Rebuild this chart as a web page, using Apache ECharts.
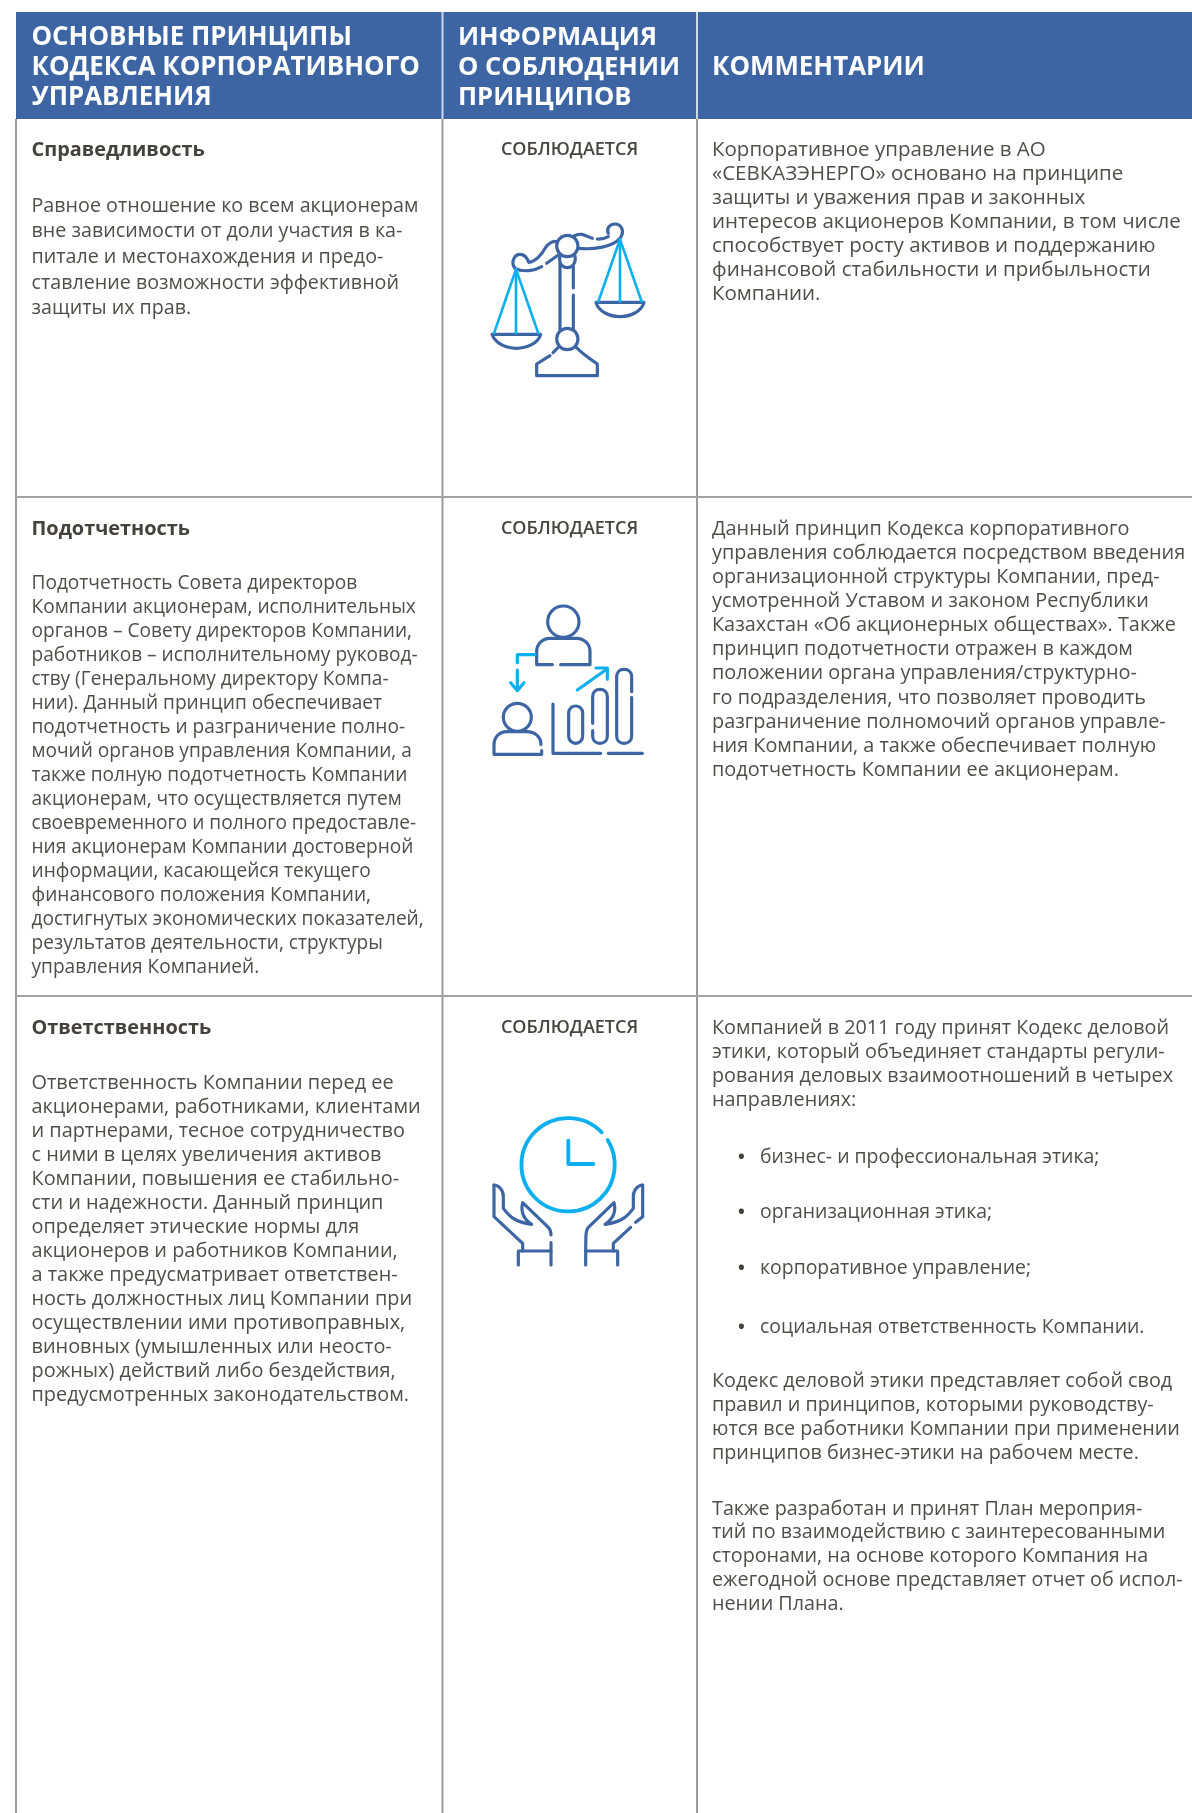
<!DOCTYPE html>
<html><head><meta charset="utf-8">
<style>html,body{margin:0;padding:0;background:#fff}#c{width:1192px;height:1813px}</style>
<script src="https://cdn.jsdelivr.net/npm/echarts@6/dist/echarts.min.js"></script>
</head><body><div id="c"></div>
<script>
// ---- content ----
const headerPrinciples = ['ОСНОВНЫЕ ПРИНЦИПЫ','КОДЕКСА КОРПОРАТИВНОГО','УПРАВЛЕНИЯ'];
const headerInfo = ['ИНФОРМАЦИЯ','О СОБЛЮДЕНИИ','ПРИНЦИПОВ'];
const headerComments = ['КОММЕНТАРИИ'];
const rowTitles = ['Справедливость','Подотчетность','Ответственность'];
const statusText = 'СОБЛЮДАЕТСЯ';
const principle1 = ['Равное отношение ко всем акционерам','вне зависимости от доли участия в ка-','питале и местонахождения и предо-','ставление возможности эффективной','защиты их прав.'];
const principle2 = ['Подотчетность Совета директоров','Компании акционерам, исполнительных','органов – Совету директоров Компании,','работников – исполнительному руковод-','ству (Генеральному директору Компа-','нии). Данный принцип обеспечивает','подотчетность и разграничение полно-','мочий органов управления Компании, а','также полную подотчетность Компании','акционерам, что осуществляется путем','своевременного и полного предоставле-','ния акционерам Компании достоверной','информации, касающейся текущего','финансового положения Компании,','достигнутых экономических показателей,','результатов деятельности, структуры','управления Компанией.'];
const principle3 = ['Ответственность Компании перед ее','акционерами, работниками, клиентами','и партнерами, тесное сотрудничество','с ними в целях увеличения активов','Компании, повышения ее стабильно-','сти и надежности. Данный принцип','определяет этические нормы для','акционеров и работников Компании,','а также предусматривает ответствен-','ность должностных лиц Компании при','осуществлении ими противоправных,','виновных (умышленных или неосто-','рожных) действий либо бездействия,','предусмотренных законодательством.'];
const comment1 = ['Корпоративное управление в АО','«СЕВКАЗЭНЕРГО» основано на принципе','защиты и уважения прав и законных','интересов акционеров Компании, в том числе','способствует росту активов и поддержанию','финансовой стабильности и прибыльности','Компании.'];
const comment2 = ['Данный принцип Кодекса корпоративного','управления соблюдается посредством введения','организационной структуры Компании, пред-','усмотренной Уставом и законом Республики','Казахстан «Об акционерных обществах». Также','принцип подотчетности отражен в каждом','положении органа управления/структурно-','го подразделения, что позволяет проводить','разграничение полномочий органов управле-','ния Компании, а также обеспечивает полную','подотчетность Компании ее акционерам.'];
const comment3a = ['Компанией в 2011 году принят Кодекс деловой','этики, который объединяет стандарты регули-','рования деловых взаимоотношений в четырех','направлениях:'];
const comment3bullets = ['бизнес- и профессиональная этика;','организационная этика;','корпоративное управление;','социальная ответственность Компании.'];
const comment3b = ['Кодекс деловой этики представляет собой свод','правил и принципов, которыми руководству-','ются все работники Компании при применении','принципов бизнес-этики на рабочем месте.'];
const comment3c = ['Также разработан и принят План мероприя-','тий по взаимодействию с заинтересованными','сторонами, на основе которого Компания на','ежегодной основе представляет отчет об испол-','нении Плана.'];

// ---- layout (page pixels, used as axis values) ----
const W = 1192, H = 1813;
const colEdges = [16, 442.5, 697, 1192];
const rowEdges = [12, 119, 497, 996, 1813];
const FONT = '"Open Sans", sans-serif';
const BLUE = '#3d65a3', CYAN = '#0db0ef', INK = '#514e49';
const bodyStyle = size => ({font:'400 '+size+'px '+FONT, fill:INK});
const styles = {
  head:  {font:'700 25.9px '+FONT, fill:'#fff'},
  headB: {font:'700 25.6px '+FONT, fill:'#fff'},
  title: {font:'700 19.9px '+FONT, fill:'#45423c'},
  stat:  {font:'600 18px '+FONT, fill:'#48453f', align:'center'},
  bullet:{font:'700 18px '+FONT, fill:'#45423c'},
  p1: bodyStyle(19.7), p2: bodyStyle(19.1), p3: bodyStyle(19.9),
  c1: bodyStyle(20.5), c2: bodyStyle(19.85), c3a: bodyStyle(19.8),
  c3l: bodyStyle(19.45), c3b: bodyStyle(19.8), c3c: bodyStyle(19.75)
};
// rects
const cells = [];
colEdges.slice(0,-1).forEach((x,i)=>cells.push({kind:'head',x0:x,x1:colEdges[i+1],y0:rowEdges[0],y1:rowEdges[1]}));
const rules = [];
[1,2].forEach(i=>rules.push({x0:colEdges[i],y0:rowEdges[0],x1:colEdges[i],y1:rowEdges[1],c:'#cfd8e6'}));
colEdges.slice(0,3).forEach(x=>rules.push({x0:x,y0:rowEdges[1],x1:x,y1:H,c:'#9b9b9b'}));
[2,3].forEach(i=>rules.push({x0:colEdges[0],y0:rowEdges[i],x1:W,y1:rowEdges[i],c:'#a3a3a3'}));

// text lines
const textItems = [];
function block(lines, x, y, step, style){
  lines.forEach((t,i)=>textItems.push({t, x, y:y+i*step, style}));
}
const X1=31.5, X2=569.5, X3=712;
block(headerPrinciples, X1, 37.5, 30, 'head');
block(headerInfo, 458, 37.5, 30, 'headB');
block(headerComments, X3, 67.5, 30, 'head');
[150,529,1028].forEach((y,i)=>{
  block([rowTitles[i]], X1, y, 0, 'title');
  block([statusText], X2, y, 0, 'stat');
});
block(principle1, X1, 206, 25.7, 'p1');
block(principle2, X1, 584, 24, 'p2');
block(principle3, X1, 1083, 24.03, 'p3');
block(comment1, X3, 150, 24, 'c1');
block(comment2, X3, 529.5, 24.05, 'c2');
block(comment3a, X3, 1028, 24, 'c3a');
[1157,1212,1268,1327].forEach((y,i)=>{
  block(['•'], 738, y+1, 0, 'bullet');
  block([comment3bullets[i]], 760, y, 0, 'c3l');
});
block(comment3b, X3, 1381, 24, 'c3b');
block(comment3c, X3, 1509, 23.8, 'c3c');

// icons: strokes in a 600-unit box mapped to 200 page pixels
const icons = [
 {at:[470,200], cyanWidth:8, blue:[
  'M66 403H212C205 430 170 445 139 445C108 445 75 430 66 403Z',
  'M378 307H522C515 335 480 350 450 350C420 350 385 335 378 307Z',
  'M324 138A32 32 0 1 1 260 138A32 32 0 1 1 324 138Z',
  'M270 168C265 190 278 203 292 203C306 203 319 190 315 168',
  'M324 417A32 32 0 1 1 260 417A32 32 0 1 1 324 417Z',
  'M270 190V388','M310 200V264','M310 285V388',
  'M240 467L200 492V527H382V492C350 470 330 455 318 441','M249 458L266 441',
  'M135 205C120 185 135 163 150 163C165 163 172 175 176 187C195 185 215 165 225 145C235 130 250 122 262 125',
  'M135 205C160 218 195 212 215 200','M230 190L265 165',
  'M325 145C370 150 430 140 450 115C465 95 455 72 435 72C420 72 408 85 415 100',
  'M382 117C395 118 405 115 415 110','M312 108C335 95 350 110 367 115'
 ], cyan:[
  'M72 400L138 208L205 400','M138 208V400',
  'M385 305L450 118L515 305','M450 118V305'
 ]},
 {at:[470,580], cyanWidth:9.5, blue:[
  'M327 125A47 47 0 1 1 233 125A47 47 0 1 1 327 125Z',
  'M247 254H200V215C200 190 220 175 240 175H320C340 175 360 190 360 215V254H272',
  'M184 412A42 42 0 1 1 100 412A42 42 0 1 1 184 412Z',
  'M213 493C212 470 195 455 170 455H110C90 455 72 470 72 495V523H215V512',
  'M249 372V520H392','M415 520H517',
  'M296 399C296 386 306 378 317 378C328 378 338 386 338 399V469C338 482 328 490 317 490C306 490 296 482 296 469Z',
  'M368 430V350C368 335 378 328 390 328C402 328 412 335 412 350V468C412 482 402 490 390 490C378 490 368 482 368 468V452',
  'M485 335V290C485 275 475 268 462 268C450 268 440 275 440 290V468C440 482 450 490 462 490C475 490 485 482 485 468V352'
 ], cyan:[
  'M195 224H142V248','M142 270V330','M122 308L142 332L162 308',
  'M322 330L412 266','M378 264H412V298'
 ]},
 {at:[470,1090], cyanWidth:11.5, blue:[
  'M72 285C85 285 100 300 100 318V355C115 375 130 395 185 403C165 390 150 370 158 338L235 412C243 420 243 428 243 435',
  'M72 285V380L158 460V483','M243 458V525','M145 525V483H243',
  'M518 285C505 285 490 300 490 318V355C475 375 460 395 405 403C425 390 440 370 432 338L355 412C347 420 347 428 347 525',
  'M518 285V380L497 397','M482 412L430 460V483','M347 483H443V525'
 ], cyan:[
  'M395 127A140 140 0 1 0 413 150','M295 152V222H370'
 ]}
];

const chart = echarts.init(document.getElementById('c'), null, {renderer:'canvas'});
const dataOf = arr => arr.map((d,i)=>[i]);
chart.setOption({
  backgroundColor:'#fff',
  animation:false,
  grid:{left:0,right:0,top:0,bottom:0},
  xAxis:{type:'value',min:0,max:W,show:false},
  yAxis:{type:'value',min:0,max:H,inverse:true,show:false},
  tooltip:{show:false},
  series:[
   {type:'custom',coordinateSystem:'cartesian2d',clip:false,silent:true,z:1,
    data:dataOf(cells),encode:{x:0,y:0},
    renderItem(p,api){const c=cells[p.dataIndex];const a=api.coord([c.x0,c.y0]),b=api.coord([c.x1,c.y1]);
      return {type:'rect',shape:{x:a[0],y:a[1],width:b[0]-a[0],height:b[1]-a[1]},style:{fill:BLUE}};}},
   {type:'custom',coordinateSystem:'cartesian2d',clip:false,silent:true,z:2,
    data:dataOf(rules),encode:{x:0,y:0},
    renderItem(p,api){const r=rules[p.dataIndex];const a=api.coord([r.x0,r.y0]),b=api.coord([r.x1,r.y1]);
      return {type:'line',shape:{x1:a[0],y1:a[1],x2:b[0],y2:b[1]},style:{stroke:r.c,lineWidth:2}};}},
   {type:'custom',coordinateSystem:'cartesian2d',clip:false,silent:true,z:3,
    data:dataOf(icons),encode:{x:0,y:0},
    renderItem(p,api){const ic=icons[p.dataIndex];const o=api.coord(ic.at);
      const mk=(d,c,w)=>({type:'path',shape:{pathData:d},style:{fill:null,stroke:c,lineWidth:w,lineCap:'round',lineJoin:'round'}});
      return {type:'group',x:o[0],y:o[1],scaleX:1/3,scaleY:1/3,
        children:ic.blue.map(d=>mk(d,BLUE,9.5)).concat(ic.cyan.map(d=>mk(d,CYAN,ic.cyanWidth)))};}},
   {type:'custom',coordinateSystem:'cartesian2d',clip:false,silent:true,z:4,
    data:dataOf(textItems),encode:{x:0,y:0},
    renderItem(p,api){const l=textItems[p.dataIndex];const s=styles[l.style];const o=api.coord([l.x,l.y]);
      return {type:'text',x:o[0],y:o[1],
        style:{text:l.t,font:s.font,fill:s.fill,align:s.align||'left',verticalAlign:'middle'}};}}
  ]
});
</script></body></html>
